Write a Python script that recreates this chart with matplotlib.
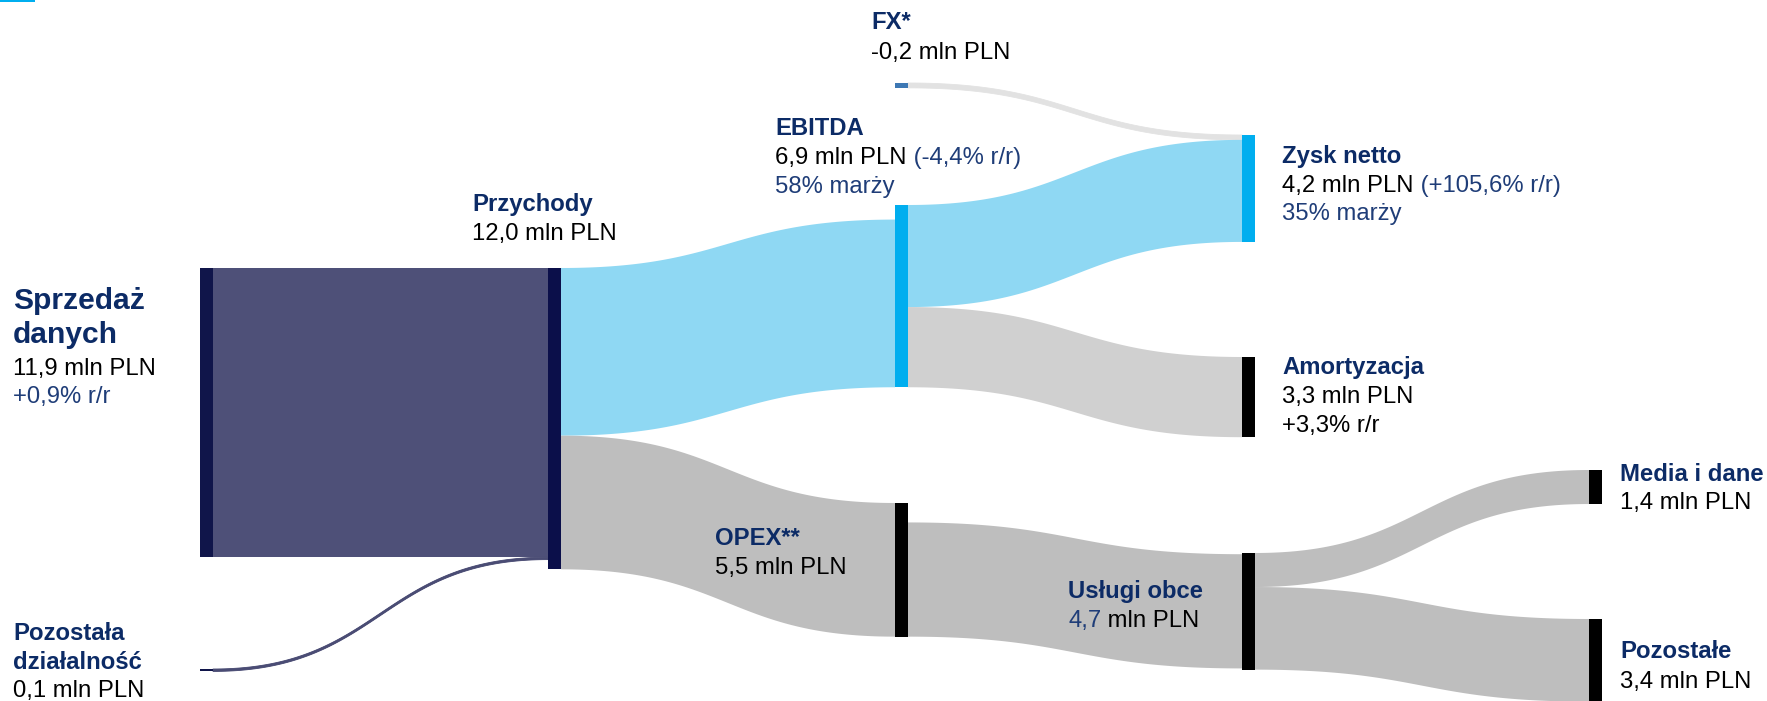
import matplotlib
matplotlib.use("Agg")
import matplotlib.pyplot as plt
import numpy as np
from matplotlib.patches import Rectangle, Polygon

# ---------------- data ----------------
node_names = ["Sprzedaż\ndanych", "Pozostała\ndziałalność", "Przychody", "EBITDA", "OPEX**",
              "FX*", "Zysk netto", "Amortyzacja", "Usługi obce", "Media i dane", "Pozostałe"]
node_values = [11.9, 0.1, 12.0, 6.9, 5.5, -0.2, 4.2, 3.3, 4.7, 1.4, 3.4]   # mln PLN
node_yoy = {0: 0.9, 3: -4.4, 6: 105.6, 7: 3.3}                               # % r/r
node_margin = {3: 58, 6: 35}                                                 # % marży

link_source = [0, 1, 2, 2, 5, 3, 3, 4, 8, 8]
link_target = [2, 2, 3, 4, 6, 6, 7, 8, 9, 10]
link_value = [11.9, 0.1, 6.9, 5.5, 0.2, 4.2, 3.3, 4.7, 1.4, 3.4]

# ---------------- layout / style ----------------
W, H = 1767, 701
K = 24.3            # pixels per 1 mln PLN
NODE_W = 13
col_x = [200, 548, 895, 1242, 1589]
node_col = [0, 0, 1, 2, 2, 2, 3, 3, 3, 4, 4]
node_top = [268, 669, 268, 205, 503, 83, 135, 357, 553, 470, 619]   # px
in_align = {3: "bottom", 8: "center"}
out_align = {4: "bottom"}

NAVY = "#0c2b66"
BLUE_TXT = "#1f3d78"
node_color = ["#10154a", "#10154a", "#0b0f4a", "#00aeef", "#000000", "#3d78b4",
              "#00aeef", "#000000", "#000000", "#000000", "#000000"]
link_color = ["#4e5078", "#4a4c74", "#8fd8f3", "#bebebe", "#e2e2e2",
              "#8fd8f3", "#d0d0d0", "#bebebe", "#bebebe", "#bebebe"]

FONT = "Liberation Sans"
FS = 17.2
FS_BIG = 21.6

fig = plt.figure(figsize=(W / 100, H / 100), dpi=100)
ax = fig.add_axes([0, 0, 1, 1])
ax.set_xlim(0, W)
ax.set_ylim(H / K, 0)
ax.axis("off")

n = len(node_names)
in_sum = [0.0] * n
out_sum = [0.0] * n
for s, t, v in zip(link_source, link_target, link_value):
    out_sum[s] += v
    in_sum[t] += v
node_h = [max(a, b) for a, b in zip(in_sum, out_sum)]
top_u = [p / K for p in node_top]


def start(i, total, align):
    if align == "bottom":
        return top_u[i] + node_h[i] - total
    if align == "center":
        return top_u[i] + (node_h[i] - total) / 2
    return top_u[i]


out_pos = [start(i, out_sum[i], out_align.get(i, "top")) for i in range(n)]
in_pos = [start(i, in_sum[i], in_align.get(i, "top")) for i in range(n)]


def bez(p0, p1, p2, p3, t):
    return (1 - t) ** 3 * p0 + 3 * (1 - t) ** 2 * t * p1 + 3 * (1 - t) * t ** 2 * p2 + t ** 3 * p3


tt = np.linspace(0, 1, 120)
for k, (s, t, v) in enumerate(zip(link_source, link_target, link_value)):
    x0 = col_x[node_col[s]] + NODE_W
    x1 = col_x[node_col[t]]
    xm = (x0 + x1) / 2
    y0 = out_pos[s]
    y1 = in_pos[t]
    out_pos[s] += v
    in_pos[t] += v
    xs = bez(x0, xm, xm, x1, tt)
    yt = bez(y0, y0, y1, y1, tt)
    yb = bez(y0 + v, y0 + v, y1 + v, y1 + v, tt)
    pts = np.vstack([np.column_stack([xs, yt]), np.column_stack([xs[::-1], yb[::-1]])])
    ax.add_patch(Polygon(pts, closed=True, facecolor=link_color[k], edgecolor=link_color[k],
                         linewidth=0.6 if v < 0.5 else 0, zorder=1))
    if v < 0.15:
        ax.plot(xs, (yt + yb) / 2, color=link_color[k], lw=1.5, zorder=1, solid_capstyle="butt")

for i in range(n):
    ax.add_patch(Rectangle((col_x[node_col[i]], top_u[i]), NODE_W, node_h[i],
                           facecolor=node_color[i], edgecolor="none", zorder=2))

# small accent bar in the top-left corner
ax.add_patch(Rectangle((0, 0), 35, 2.2 / K, facecolor="#00aeef", edgecolor="none", zorder=3))

renderer = fig.canvas.get_renderer()


def put(x, yb, pieces):
    for s, c, bold, fs in pieces:
        txt = ax.text(x, yb / K, s, color=c, fontsize=fs, fontweight="bold" if bold else "normal",
                      va="baseline", ha="left", family=FONT, zorder=5)
        bb = txt.get_window_extent(renderer)
        x = ax.transData.inverted().transform((bb.x1, bb.y0))[0]


def mln(v):
    return f"{v:.1f}".replace(".", ",") + " mln PLN"


def pct(v):
    return f"{v:+.1f}".replace(".", ",") + "% r/r"


# label placement (px): x, list of baselines
lab = {
    0: (13, [309, 343, 375, 403]),
    1: (13, [640, 669, 697]),
    2: (472, [211, 240]),
    5: (871, [29, 59]),
    3: (775, [135, 164, 193]),
    6: (1282, [163, 192, 220]),
    7: (1282, [374, 403, 432]),
    4: (715, [545, 574]),
    8: (1068, [598, 627]),
    9: (1620, [481, 509]),
    10: (1620, [658, 688]),
}

for i, (x, bls) in lab.items():
    name_lines = node_names[i].split("\n")
    fs_name = FS_BIG if i == 0 else FS
    li = 0
    for nl in name_lines:
        put(x, bls[li], [(nl, NAVY, True, fs_name)])
        li += 1
    val = node_values[i]
    if i == 3 or i == 6:
        put(x, bls[li], [(mln(val), "black", False, FS),
                         (" (" + pct(node_yoy[i]) + ")", BLUE_TXT, False, FS)])
        li += 1
        put(x, bls[li], [(f"{node_margin[i]}% marży", BLUE_TXT, False, FS)])
    elif i == 8:
        num, rest = mln(val).split(" ", 1)
        put(x, bls[li], [(num, BLUE_TXT, False, FS), (" " + rest, "black", False, FS)])
    else:
        put(x, bls[li], [(mln(val), "black", False, FS)])
        li += 1
        if i in node_yoy:
            col = BLUE_TXT if i == 0 else "black"
            put(x, bls[li], [(pct(node_yoy[i]), col, False, FS)])

fig.savefig("out.png", dpi=100, facecolor="white")
